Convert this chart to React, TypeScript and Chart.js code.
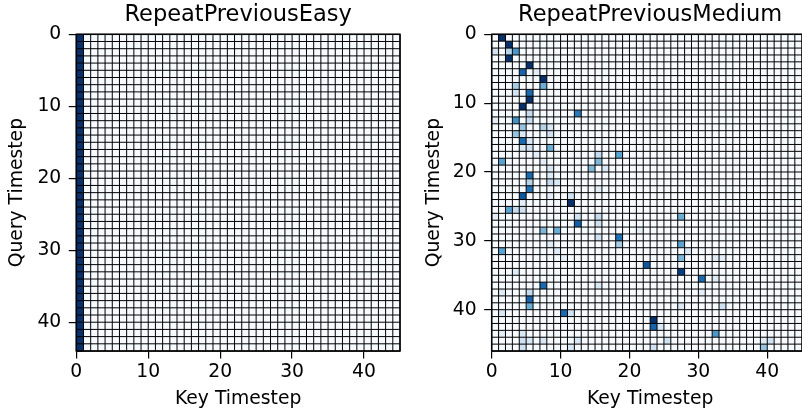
import React, { useEffect, useRef } from "react";
import { Chart, registerables } from "chart.js";

Chart.register(...registerables);

// ---------- data ----------
const tickValues = [0, 10, 20, 30, 40];

const easyTitle = "RepeatPreviousEasy";
const easyQuerySteps = 44;
const easyKeySteps = 45;
// [key, weight] : every query row puts its attention on these keys
const easyKeyWeights: [number, number][] = [[0, 1.0]];

const mediumTitle = "RepeatPreviousMedium";
const mediumQuerySteps = 46;
const mediumKeySteps = 46;
// [query, key, weight]
const mediumCells: [number, number, number][] = [
  [0, 1, 1.0],
  [1, 2, 1.0],
  [2, 0, 0.2], [2, 2, 0.3], [2, 3, 0.6],
  [3, 2, 1.0],
  [4, 5, 1.0],
  [5, 4, 0.8], [5, 6, 0.1],
  [6, 7, 1.0],
  [7, 3, 0.35], [7, 7, 0.5],
  [8, 3, 0.18], [8, 5, 0.78],
  [9, 5, 1.0],
  [10, 4, 1.0],
  [11, 5, 0.25], [11, 12, 0.72],
  [12, 0, 0.1], [12, 3, 0.62], [12, 5, 0.25],
  [13, 4, 0.4], [13, 7, 0.3], [13, 8, 0.15],
  [14, 3, 0.4], [14, 4, 0.15], [14, 8, 0.2],
  [15, 4, 0.78], [15, 5, 0.15],
  [16, 4, 0.15], [16, 5, 0.2], [16, 8, 0.5],
  [17, 6, 0.1], [17, 15, 0.25], [17, 18, 0.55],
  [18, 1, 0.55], [18, 7, 0.1], [18, 15, 0.45],
  [19, 8, 0.15], [19, 14, 0.45], [19, 16, 0.15],
  [20, 5, 0.78], [20, 8, 0.12],
  [21, 5, 0.3], [21, 8, 0.25], [21, 9, 0.15],
  [22, 5, 0.75], [22, 15, 0.1],
  [23, 4, 0.85], [23, 8, 0.1], [23, 11, 0.2],
  [24, 4, 0.1], [24, 11, 1.0],
  [25, 2, 0.55], [25, 3, 0.25], [25, 4, 0.2],
  [26, 0, 0.1], [26, 12, 0.2], [26, 15, 0.25], [26, 27, 0.5],
  [27, 12, 0.82], [27, 15, 0.2],
  [28, 7, 0.45], [28, 9, 0.5], [28, 21, 0.1],
  [29, 15, 0.2], [29, 18, 0.75],
  [30, 8, 0.12], [30, 18, 0.35], [30, 27, 0.55],
  [31, 1, 0.55], [31, 9, 0.12], [31, 28, 0.15],
  [32, 10, 0.1], [32, 27, 0.45], [32, 32, 0.12], [32, 33, 0.1],
  [33, 22, 0.85],
  [34, 3, 0.12], [34, 27, 0.95],
  [35, 30, 0.78], [35, 32, 0.12],
  [36, 7, 0.78], [36, 15, 0.15],
  [37, 1, 0.12], [37, 5, 0.25], [37, 30, 0.1],
  [38, 5, 0.8],
  [39, 5, 0.5], [39, 27, 0.15], [39, 33, 0.2],
  [40, 1, 0.15], [40, 10, 0.78], [40, 11, 0.2],
  [41, 23, 1.0],
  [42, 23, 0.8], [42, 24, 0.15],
  [43, 1, 0.1], [43, 4, 0.15], [43, 32, 0.6],
  [44, 4, 0.2], [44, 5, 0.15], [44, 7, 0.15], [44, 12, 0.15], [44, 25, 0.2], [44, 39, 0.12], [44, 40, 0.2],
  [45, 4, 0.2], [45, 11, 0.15], [45, 23, 0.2], [45, 39, 0.4],
];

const xAxisLabel = "Key Timestep";
const yAxisLabel = "Query Timestep";

// ---------- colour map (matplotlib Blues) ----------
const bluesStops = [
  [247, 251, 255], [222, 235, 247], [198, 219, 239], [158, 202, 225], [107, 174, 214],
  [66, 146, 198], [33, 113, 181], [8, 81, 156], [8, 48, 107],
];
function blues(v: number): string {
  const t = Math.max(0, Math.min(1, v)) * (bluesStops.length - 1);
  const i = Math.min(Math.floor(t), bluesStops.length - 2);
  const f = t - i;
  const a = bluesStops[i], b = bluesStops[i + 1];
  const c = a.map((av, k) => Math.round(av + (b[k] - av) * f));
  return `rgb(${c[0]},${c[1]},${c[2]})`;
}

type Cell = { x: number; y: number; v: number };

function buildEasy(): Cell[] {
  const out: Cell[] = [];
  for (let r = 0; r < easyQuerySteps; r++) {
    for (let c = 0; c < easyKeySteps; c++) {
      const hit = easyKeyWeights.find((k) => k[0] === c);
      out.push({ x: c, y: r, v: hit ? hit[1] : 0 });
    }
  }
  return out;
}

function buildMedium(): Cell[] {
  const out: Cell[] = [];
  for (let r = 0; r < mediumQuerySteps; r++) {
    for (let c = 0; c < mediumKeySteps; c++) {
      const hit = mediumCells.find((k) => k[0] === r && k[1] === c);
      out.push({ x: c, y: r, v: hit ? hit[2] : 0 });
    }
  }
  return out;
}

const heatPlugin = {
  id: "heatCells",
  beforeDatasetsDraw(chart: any) {
    const { ctx, chartArea } = chart;
    const xs = chart.scales.x;
    const ys = chart.scales.y;
    const data: Cell[] = chart.data.datasets[0].data;
    ctx.save();
    for (const p of data) {
      const x0 = xs.getPixelForValue(p.x);
      const x1 = xs.getPixelForValue(p.x + 1);
      const y0 = ys.getPixelForValue(p.y);
      const y1 = ys.getPixelForValue(p.y + 1);
      ctx.fillStyle = blues(p.v);
      ctx.fillRect(Math.min(x0, x1), Math.min(y0, y1), Math.abs(x1 - x0) + 0.3, Math.abs(y1 - y0) + 0.3);
    }
    const nCols = xs.max;
    const nRows = ys.max;
    ctx.strokeStyle = "#000";
    ctx.lineWidth = 1;
    ctx.beginPath();
    for (let c = 0; c <= nCols; c++) {
      const px = xs.getPixelForValue(c);
      ctx.moveTo(px, ys.getPixelForValue(0));
      ctx.lineTo(px, ys.getPixelForValue(nRows));
    }
    for (let r = 0; r <= nRows; r++) {
      const py = ys.getPixelForValue(r);
      ctx.moveTo(xs.getPixelForValue(0), py);
      ctx.lineTo(xs.getPixelForValue(nCols), py);
    }
    ctx.stroke();
    ctx.lineWidth = 1.5;
    ctx.strokeRect(chartArea.left, chartArea.top, chartArea.right - chartArea.left, chartArea.bottom - chartArea.top);
    ctx.restore();
  },
};

type PanelOpts = {
  title: string;
  cells: Cell[];
  nCols: number;
  nRows: number;
  yAxisWidth: number;
  yTitlePad: number;
  padRight: number;
};

function makeChart(canvas: HTMLCanvasElement, o: PanelOpts) {
  const tickFont = { family: "DejaVu Sans", size: 18.75 };
  return new Chart(canvas, {
    type: "scatter",
    data: {
      datasets: [
        {
          data: o.cells as any,
          pointRadius: 0,
          pointHoverRadius: 0,
          showLine: false,
        },
      ],
    },
    plugins: [heatPlugin],
    options: {
      animation: false,
      responsive: false,
      maintainAspectRatio: false,
      devicePixelRatio: 1,
      events: [],
      layout: { padding: { left: 0, right: o.padRight, top: 0, bottom: 0 } },
      plugins: {
        legend: { display: false },
        tooltip: { enabled: false },
        title: {
          display: true,
          text: o.title,
          fullSize: false,
          color: "#000",
          font: { family: "DejaVu Sans", size: 22.5, weight: "normal" as any, lineHeight: 1.2 },
          padding: { top: 1.7, bottom: 5.6 },
        },
      },
      scales: {
        x: {
          type: "linear",
          min: 0,
          max: o.nCols,
          afterBuildTicks: (axis: any) => {
            axis.ticks = tickValues.map((v) => ({ value: v }));
          },
          afterFit: (axis: any) => {
            axis.height = 64;
          },
          grid: { drawOnChartArea: false, drawTicks: true, tickLength: 7.5, color: "#000", lineWidth: 1.2 },
          border: { display: true, color: "#000", width: 1.5 },
          ticks: { color: "#000", font: tickFont, padding: 2.5, maxRotation: 0, autoSkip: false },
          title: {
            display: true,
            text: xAxisLabel,
            color: "#000",
            font: tickFont,
            padding: { top: 0, bottom: 4.5 },
          },
        },
        y: {
          type: "linear",
          min: 0,
          max: o.nRows,
          reverse: true,
          afterBuildTicks: (axis: any) => {
            axis.ticks = tickValues.map((v) => ({ value: v }));
          },
          afterFit: (axis: any) => {
            axis.width = o.yAxisWidth;
          },
          grid: { drawOnChartArea: false, drawTicks: true, tickLength: 7.5, color: "#000", lineWidth: 1.2 },
          border: { display: true, color: "#000", width: 1.5 },
          ticks: { color: "#000", font: tickFont, padding: 7.5, autoSkip: false },
          title: {
            display: true,
            text: yAxisLabel,
            color: "#000",
            font: tickFont,
            padding: { top: o.yTitlePad, bottom: 0 },
          },
        },
      },
    },
  });
}

export default function App() {
  const leftRef = useRef<HTMLCanvasElement>(null);
  const rightRef = useRef<HTMLCanvasElement>(null);

  useEffect(() => {
    const left = makeChart(leftRef.current!, {
      title: easyTitle,
      cells: buildEasy(),
      nCols: easyKeySteps,
      nRows: easyQuerySteps,
      yAxisWidth: 76.3,
      yTitlePad: 6,
      padRight: 10,
    });
    const right = makeChart(rightRef.current!, {
      title: mediumTitle,
      cells: buildMedium(),
      nCols: mediumKeySteps,
      nRows: mediumQuerySteps,
      yAxisWidth: 81.7,
      yTitlePad: 12.6,
      padRight: 21.4,
    });
    return () => {
      left.destroy();
      right.destroy();
    };
  }, []);

  return (
    <div
      style={{
        position: "fixed",
        left: 0,
        top: 0,
        width: 802,
        height: 415,
        overflow: "hidden",
        background: "#fff",
      }}
    >
      <canvas ref={leftRef} width={410} height={415} style={{ position: "absolute", left: 0, top: 0, width: 410, height: 415 }} />
      <canvas ref={rightRef} width={420} height={415} style={{ position: "absolute", left: 410, top: 0, width: 420, height: 415 }} />
    </div>
  );
}
